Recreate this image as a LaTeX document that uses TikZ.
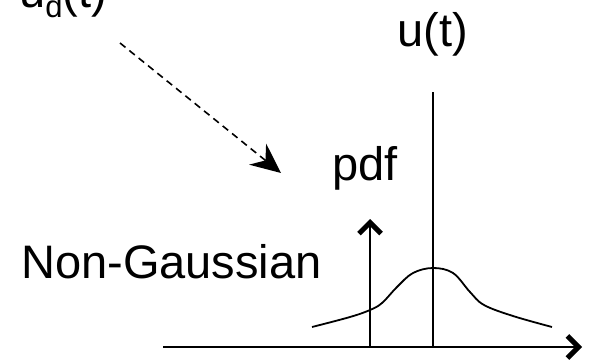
\documentclass[tikz,border=0pt]{standalone}
\usepackage{fontspec}
\setmainfont{Liberation Sans}
\usetikzlibrary{arrows.meta}

\begin{document}
\begin{tikzpicture}[
			x=1pt, y=-1pt,
			% Define the style for the labels and lines
			label/.style={inner sep=0pt, font=\fontsize{47}{56}\selectfont},
			axis/.style={line width=2.6pt},
			thinline/.style={line width=1.8pt},
			barb/.style={-{Straight Barb[length=11pt, width=22pt, line width=5pt]}}
			]
			\useasboundingbox (0,0) rectangle (591,361);
			
			\node (ud) at (19, 8) [label, anchor=base west] {u\raisebox{-10pt}{\fontsize{31}{31}\selectfont d}(t)};
			\node (u) at (433, 47) [label, anchor=base] {u(t)};
			\node (pdf) at (332, 180) [label, anchor=base west] {pdf};
			\node (ng) at (21, 278) [label, anchor=base west] {Non-Gaussian};
			
			\coordinate (x0) at (163, 347);
			\coordinate (x1) at (582, 347);
			\coordinate (p0) at (370, 347);
			\coordinate (p1) at (370, 219);
			\coordinate (m0) at (433, 347);
			\coordinate (m1) at (433, 92);
			\coordinate (d0) at (120, 43);
			\coordinate (d1) at (281, 173);
			
			\draw[axis, barb] (x0) -- (x1);
			\draw[thinline, barb] (p0) -- (p1);
			\draw[thinline] (m0) -- (m1);
			
			\draw[line width=1.6pt, dash pattern=on 7pt off 5pt,
				-{Stealth[length=30pt, width=27pt, inset=10pt]}] (d0) -- (d1);
			
			\draw[thinline] plot[smooth, tension=0.6] coordinates {
				(312,327) (350,317) (370,310) (382,303) (397,287) (413,273) (433,268)
				(453,273) (470,292) (484,305) (513,316) (552,327)};
			
		\end{tikzpicture}
\end{document}
